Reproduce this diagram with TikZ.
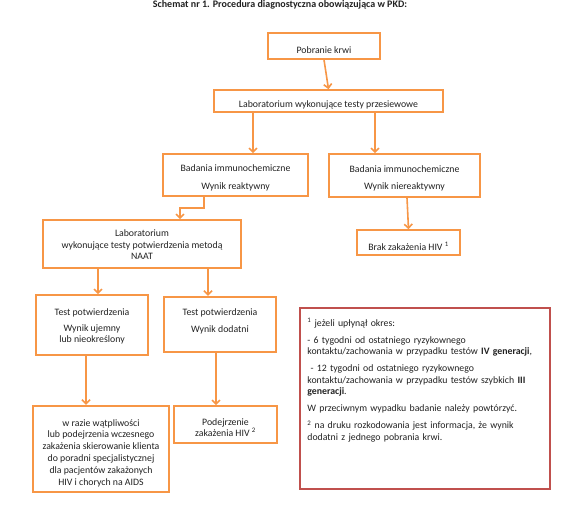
\documentclass[tikz,border=0pt]{standalone}
\usepackage{fontspec}
\setmainfont{Carlito}
\usetikzlibrary{arrows.meta}
\definecolor{orng}{HTML}{F79646}
\definecolor{rd}{HTML}{C0504D}
\definecolor{txtc}{HTML}{222222}
\begin{document}
\begin{tikzpicture}[x=1pt,y=-1pt,
  box/.style={draw=orng,line width=1.6pt,fill=white,inner sep=0pt,minimum width=#1},
  thickbox/.style={box=#1,line width=2.4pt},
  txt/.style={font=\fontsize{9.8}{11.5}\selectfont,text=txtc,align=center,inner sep=0pt},
  arr/.style={draw=orng,line width=1.6pt,-{Straight Barb[length=4pt,width=8pt,line width=1.6pt]}}]
\useasboundingbox (0,0) rectangle (578,517);
\fill[white] (0,0) rectangle (578,517);
% title
\node[font=\bfseries\fontsize{10}{11}\selectfont,inner sep=0pt,text=txtc] (title) at (280,5) {Schemat nr 1. Procedura diagnostyczna obowiązująca w PKD:};
% boxes
\node[box=112pt,minimum height=26pt] (b1) at (324,46) {};
\node[txt] at ([yshift=-4pt]b1.center) {Pobranie krwi};
\node[box=229pt,minimum height=22pt] (b2) at (328.5,101) {};
\node[txt] at ([yshift=-4pt]b2.center) {Laboratorium wykonujące testy przesiewowe};
\node[box=145pt,minimum height=42pt] (b3) at (235.5,175) {};
\node[txt] at ([yshift=-3pt]b3.center) {Badania immunochemiczne\\[6pt]Wynik reaktywny};
\node[box=151pt,minimum height=43pt] (b4) at (404.5,175.5) {};
\node[txt] at ([yshift=-3pt]b4.center) {Badania immunochemiczne\\[6pt]Wynik niereaktywny};
\node[box=103pt,minimum height=25pt] (b5) at (408.5,242.5) {};
\node[txt] at ([yshift=-4pt]b5.center) {Brak zakażenia HIV \textsuperscript{1}};
\node[box=198pt,minimum height=48pt] (b6) at (142,244) {};
\node[txt] at ([yshift=-1pt]b6.center) {Laboratorium\\wykonujące testy potwierdzenia metodą\\NAAT};
\node[box=112pt,minimum height=60pt] (b7) at (92,325) {};
\node[txt] at ([yshift=-1.5pt]b7.center) {Test potwierdzenia\\[4.5pt]Wynik ujemny\\lub nieokreślony};
\node[thickbox=112pt,minimum height=55pt] (b8) at (220,324.5) {};
\node[txt] at ([yshift=3pt]b8.center) {Test potwierdzenia\\[5.5pt]Wynik dodatni};
\node[thickbox=136pt,minimum height=86pt] (b9) at (101,449) {};
\node[txt,font=\fontsize{9.8}{11.8}\selectfont] at ([yshift=-4pt]b9.center) {w razie wątpliwości\\lub podejrzenia wczesnego\\zakażenia skierowanie klienta\\do poradni specjalistycznej\\dla pacjentów zakażonych\\HIV i chorych na AIDS};
\node[box=103pt,minimum height=37pt] (b10) at (225.5,424.5) {};
\node[txt] at ([yshift=-3pt]b10.center) {Podejrzenie\\zakażenia HIV \textsuperscript{2}};
% note box
\node[draw=rd,line width=1.6pt,minimum width=250pt,minimum height=181pt,inner sep=0pt] (note) at (425,398.5) {};
\node[anchor=north west,inner sep=0pt,text width=240pt,text=txtc,font=\fontsize{9.8}{11.5}\selectfont,align=left] at ([xshift=8pt,yshift=-11pt]note.north west) {%
\setlength{\parskip}{5.5pt}%
\textsuperscript{1} jeżeli upłynął okres:\par
- 6 tygodni od ostatniego ryzykownego\\kontaktu/zachowania w przypadku testów \textbf{IV generacji},\par
\ - 12 tygodni od ostatniego ryzykownego\\kontaktu/zachowania w przypadku testów szybkich \textbf{III}\\\textbf{generacji}.\par
W przeciwnym wypadku badanie należy powtórzyć.\par
\textsuperscript{2} na druku rozkodowania jest informacja, że wynik\\dodatni z jednego pobrania krwi.};
% connectors
\draw[arr] (b1.south) -- (b2.north);
\draw[arr] ([xshift=-75.5pt]b2.south) -- ([xshift=17.5pt]b3.north);
\draw[arr] ([xshift=46.5pt]b2.south) -- ([xshift=-29.5pt]b4.north);
\draw[arr] ([xshift=2.5pt]b4.south) -- (b5.north);
\draw[arr] ([xshift=-31.5pt]b3.south) |- ++(0,-11pt) -| ([xshift=38pt]b6.north);
\draw[arr] ([xshift=-44pt]b6.south) -- ([xshift=6pt]b7.north);
\draw[arr] ([xshift=66pt]b6.south) -- ([xshift=-12pt]b8.north);
\draw[arr] ([xshift=-6pt]b7.south) -- ([xshift=-15pt]b9.north);
\draw[arr] ([xshift=-4pt]b8.south) -- ([xshift=-9.5pt]b10.north);
\end{tikzpicture}
\end{document}
